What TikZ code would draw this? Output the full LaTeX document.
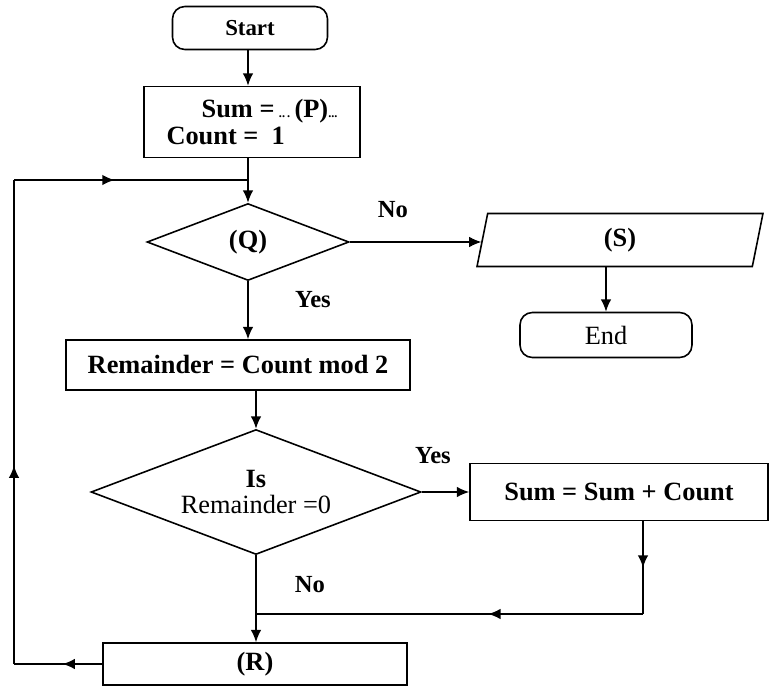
\documentclass[tikz,border=0pt]{standalone}
\usepackage{fontspec}
\setmainfont{Liberation Serif}
\usetikzlibrary{shapes.geometric,arrows.meta,decorations.markings}
\tikzset{
  line/.style={line width=0.9pt},
  arr/.style={line,-{Latex[length=7pt,width=6pt]}},
  midarrow/.style={line,postaction={decorate},
    decoration={markings,mark=at position #1 with {\arrow{Latex[length=7pt,width=6pt]}}}},
  midarrow/.default=0.45,
  box/.style={draw,line width=0.9pt,rectangle,inner sep=0pt,
    font=\fontsize{15}{15}\selectfont\bfseries},
  term/.style={box,rounded corners=7pt},
  decision/.style={draw,line width=0.9pt,diamond,aspect=2.6,inner sep=0pt,
    font=\fontsize{15}{15}\selectfont\bfseries},
  io/.style={draw,line width=0.9pt,trapezium,trapezium left angle=66,
    trapezium right angle=114,trapezium stretches body,inner sep=0pt,
    font=\fontsize{15}{15}\selectfont\bfseries},
  lbl/.style={font=\fontsize{14}{15}\selectfont\bfseries}
}
\begin{document}
\begin{tikzpicture}[x=0.02cm,y=-0.02cm]
  \useasboundingbox (0,0) rectangle (771,687);
  % boxes
  \node[term,font=\fontsize{13}{15}\selectfont\bfseries,minimum width=3.1cm,minimum height=0.86cm] (start) at (250,28) {Start};
  \node[box,align=left,minimum width=4.32cm,minimum height=1.42cm] (init) at (252,122)
    {\hspace*{20pt}Sum =\,{\scriptsize..\,.}\,(P){\scriptsize...}\\Count =\ \ 1};
  \node[decision,minimum width=4.04cm,minimum height=1.54cm] (Q) at (248,242) {(Q)};
  \node[io,minimum width=5.72cm,minimum height=1.06cm] (S) at (620,240) {(S)};
  \node[term,font=\fontsize{15}{15}\selectfont,minimum width=3.44cm,minimum height=0.9cm] (end) at (606,335) {End};
  \node[box,minimum width=6.88cm,minimum height=1.0cm] (rem) at (238,365) {Remainder = Count mod 2};
  \node[decision,align=center,minimum width=6.6cm,minimum height=2.5cm] (dec) at (256,492)
    {Is\\\mdseries Remainder =0};
  \node[box,minimum width=5.96cm,minimum height=1.14cm] (sum) at (619,492) {Sum = Sum + Count};
  \node[box,minimum width=6.08cm,minimum height=0.84cm] (R) at (255,664) {(R)};
  % labels
  \node[lbl] (noQ) at (393,210) {No};
  \node[lbl] (yesQ) at (313,300) {Yes};
  \node[lbl] (yesD) at (433,456) {Yes};
  \node[lbl] (noD) at (310,585) {No};
  % connectors
  \coordinate (j1) at (248,180);
  \coordinate (j2) at (256,614);
  \coordinate (rb) at (643,614);
  \coordinate (lb) at (14,664);
  \coordinate (lt) at (14,180);
  \draw[arr] (start.south -| j1) -- (init.north -| j1);
  \draw[line] (init.south -| j1) -- (j1);
  \draw[arr] (j1) -- (Q);
  \draw[arr] (Q.east) -- (Q.east -| S.west);
  \draw[arr] (S.south -| end) -- (end);
  \draw[arr] (Q.south) -- (Q.south |- rem.north);
  \draw[arr] (rem.south -| dec) -- (dec);
  \draw[arr] (dec) -- (sum);
  \draw[midarrow=0.5] (sum.south -| rb) -- (rb);
  \draw[midarrow=0.4] (rb) -- (j2);
  \draw[arr] (dec.south) -- (dec.south |- R.north);
  \draw[midarrow] (R.west) -- (lb);
  \draw[midarrow=0.41] (lb) -- (lt);
  \draw[midarrow=0.43] (lt) -- (j1);
\end{tikzpicture}
\end{document}
